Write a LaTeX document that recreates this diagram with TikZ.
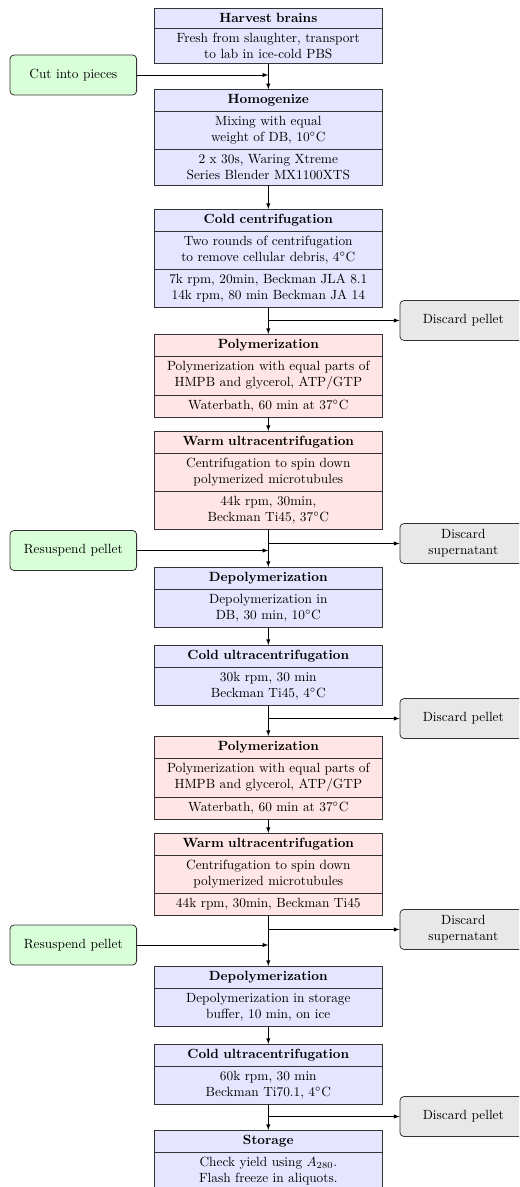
\documentclass[tikz,border=0pt]{standalone}
\usepackage{tikz}
\usetikzlibrary{shapes.multipart, arrows.meta, positioning}

\tikzset{
  stage/.style={rectangle split, draw=black!80, line width=0.6pt, text width=160pt,
    align=center, inner xsep=5.5pt, inner ysep=3.45pt, anchor=north},
  coldstage/.style={stage, fill=blue!10},
  warmstage/.style={stage, fill=red!10},
  addbox/.style={draw=black!80, line width=0.6pt, rounded corners=3pt, fill=green!15,
    minimum width=95pt, minimum height=30pt, align=center},
  wastebox/.style={addbox, fill=black!9},
  flow/.style={->, line width=0.5pt}
}

\begin{document}
\begin{tikzpicture}[>=latex, x=0.75pt, y=-0.75pt]
\useasboundingbox (0,0) rectangle (519,1187);
\clip (0,0) rectangle (519,1187);

% main column
\node[coldstage, rectangle split parts=2] (harvest) at (268.3,8.3)
  {\textbf{Harvest brains} \nodepart{two} Fresh from slaughter, transport\\ to lab in ice-cold PBS};
\node[coldstage, rectangle split parts=3] (homog) at (268.3,89.3)
  {\textbf{Homogenize} \nodepart{two} Mixing with equal\\ weight of DB, 10$^\circ$C
   \nodepart{three} 2 x 30s, Waring Xtreme\\ Series Blender MX1100XTS};
\node[coldstage, rectangle split parts=3] (coldcent) at (268.3,209)
  {\textbf{Cold centrifugation} \nodepart{two} Two rounds of centrifugation\\ to remove cellular debris, 4$^\circ$C
   \nodepart{three} 7k rpm, 20min, Beckman JLA 8.1\\ 14k rpm, 80 min Beckman JA 14};
\node[warmstage, rectangle split parts=3] (poly1) at (268.3,334)
  {\textbf{Polymerization} \nodepart{two} Polymerization with equal parts of\\ HMPB and glycerol, ATP/GTP
   \nodepart{three} Waterbath, 60 min at 37$^\circ$C};
\node[warmstage, rectangle split parts=3] (warm1) at (268.3,431)
  {\textbf{Warm ultracentrifugation} \nodepart{two} Centrifugation to spin down\\ polymerized microtubules
   \nodepart{three} 44k rpm, 30min,\\ Beckman Ti45, 37$^\circ$C};
\node[coldstage, rectangle split parts=2] (depoly1) at (268.3,567)
  {\textbf{Depolymerization} \nodepart{two} Depolymerization in\\ DB, 30 min, 10$^\circ$C};
\node[coldstage, rectangle split parts=2] (coldultra1) at (268.3,645)
  {\textbf{Cold ultracentrifugation} \nodepart{two} 30k rpm, 30 min\\ Beckman Ti45, 4$^\circ$C};
\node[warmstage, rectangle split parts=3] (poly2) at (268.3,736)
  {\textbf{Polymerization} \nodepart{two} Polymerization with equal parts of\\ HMPB and glycerol, ATP/GTP
   \nodepart{three} Waterbath, 60 min at 37$^\circ$C};
\node[warmstage, rectangle split parts=3] (warm2) at (268.3,833)
  {\textbf{Warm ultracentrifugation} \nodepart{two} Centrifugation to spin down\\ polymerized microtubules
   \nodepart{three} 44k rpm, 30min, Beckman Ti45};
\node[coldstage, rectangle split parts=2] (depoly2) at (268.3,966)
  {\textbf{Depolymerization} \nodepart{two} Depolymerization in storage\\ buffer, 10 min, on ice};
\node[coldstage, rectangle split parts=2] (coldultra2) at (268.3,1044)
  {\textbf{Cold ultracentrifugation} \nodepart{two} 60k rpm, 30 min\\ Beckman Ti70.1, 4$^\circ$C};
\node[coldstage, rectangle split parts=2] (storage) at (268.3,1130)
  {\textbf{Storage} \nodepart{two} Check yield using $A_{280}$.\\ Flash freeze in aliquots.};

% side boxes
\node[addbox] (cut) at (73.3,75) {Cut into pieces};
\node[wastebox] (pellet1) at (463.3,320.5) {Discard pellet};
\node[addbox] (resusp1) at (73.3,550.5) {Resuspend pellet};
\node[wastebox] (super1) at (463.3,543.5) {Discard\\ supernatant};
\node[wastebox] (pellet2) at (463.3,718.5) {Discard pellet};
\node[addbox] (resusp2) at (73.3,945) {Resuspend pellet};
\node[wastebox] (super2) at (463.3,929.5) {Discard\\ supernatant};
\node[wastebox] (pellet3) at (463.3,1116.5) {Discard pellet};

\draw[flow] (harvest.south) -- (homog.north);
\draw[flow] (homog.south) -- (coldcent.north);
\draw[flow] (coldcent.south) -- (poly1.north);
\draw[flow] (poly1.south) -- (warm1.north);
\draw[flow] (warm1.south) -- (depoly1.north);
\draw[flow] (depoly1.south) -- (coldultra1.north);
\draw[flow] (coldultra1.south) -- (poly2.north);
\draw[flow] (poly2.south) -- (warm2.north);
\draw[flow] (warm2.south) -- (depoly2.north);
\draw[flow] (depoly2.south) -- (coldultra2.north);
\draw[flow] (coldultra2.south) -- (storage.north);

\draw[flow] (cut) -- (cut -| harvest.south);
\draw[flow] (resusp1) -- (resusp1 -| warm1.south);
\draw[flow] (resusp2) -- (resusp2 -| warm2.south);
\draw[flow] (pellet1 -| coldcent.south) -- (pellet1);
\draw[flow] (super1 -| warm1.south) -- (super1);
\draw[flow] (pellet2 -| coldultra1.south) -- (pellet2);
\draw[flow] (super2 -| warm2.south) -- (super2);
\draw[flow] (pellet3 -| coldultra2.south) -- (pellet3);
\end{tikzpicture}
\end{document}
